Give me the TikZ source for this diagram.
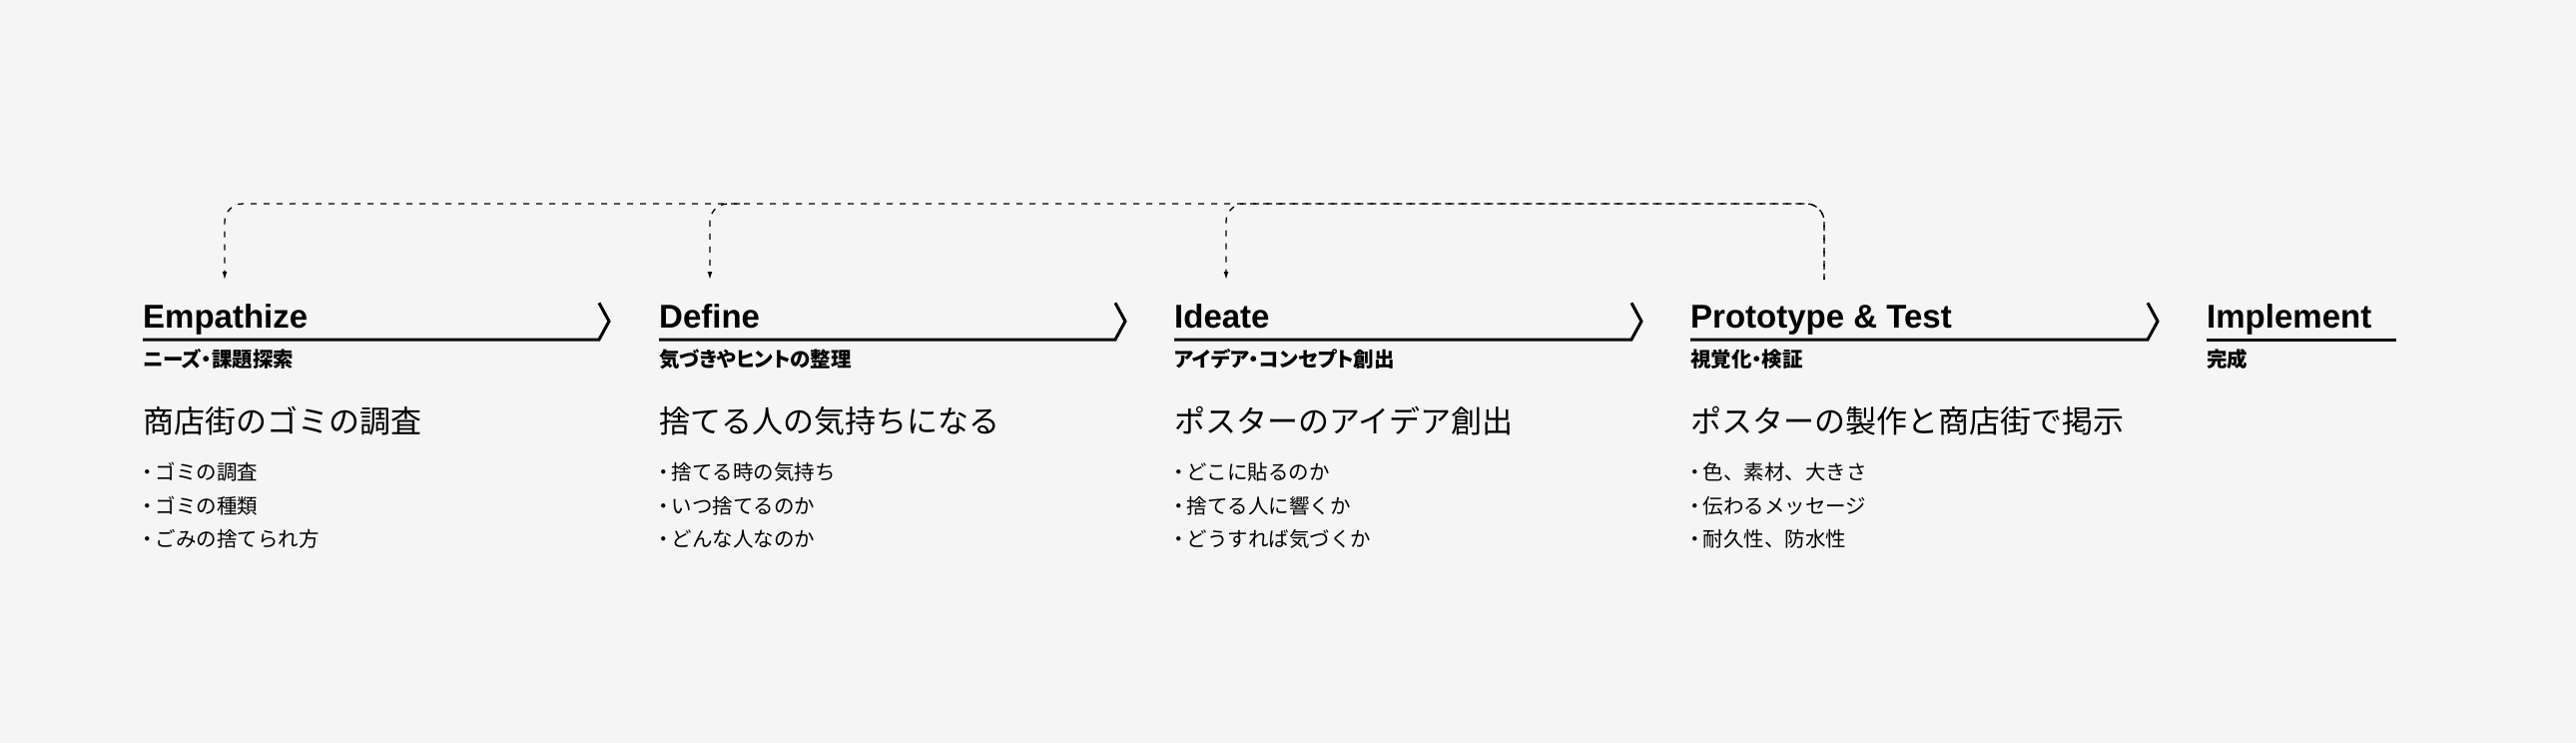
\documentclass[tikz,border=0pt]{standalone}
\usepackage{fontspec}
\setmainfont{Liberation Sans}
\newfontfamily\jpfont{Noto Sans CJK JP}
\newfontfamily\jpsubfont[RawFeature=+palt]{Noto Sans CJK JP}
\usetikzlibrary{calc,arrows.meta}
\definecolor{paper}{RGB}{245,245,245}
\newcommand{\bul}{\hspace*{-6pt}・\hspace*{-2pt}}

\tikzset{
  stagetitle/.style={anchor=base west, inner sep=0pt, font=\fontsize{33}{33}\selectfont\bfseries},
  stagesub/.style={anchor=base west, inner sep=0pt, font=\jpsubfont\bfseries\fontsize{20.5}{20.5}\selectfont},
  stagehead/.style={anchor=base west, inner sep=0pt, font=\jpfont\fontsize{31}{31}\selectfont},
  stageitem/.style={anchor=base west, inner sep=0pt, font=\jpfont\fontsize{20.5}{20.5}\selectfont},
  stageline/.style={line width=3pt, line join=miter},
  feedback/.style={line width=1.3pt, dash pattern=on 6pt off 7pt, rounded corners=18pt},
  fbarrow/.style={feedback, -{Latex[length=8pt,width=5pt]}}
}

\begin{document}
\begin{tikzpicture}[x=1pt, y=-1pt]
    \fill[paper] (0,0) rectangle (2580,744);
    \useasboundingbox (0,0) rectangle (2580,744);

    \coordinate (bus) at (0,204);
    \coordinate (emp-in) at (225,280);
    \coordinate (def-in) at (711,280);
    \coordinate (ide-in) at (1228,280);
    \coordinate (pro-out) at (1827,280);

    % Empathize
    \node[stagetitle] (emp) at (143,328) {Empathize};
    \node[stagesub] (emp-sub) at (143,367.5) {ニーズ・課題探索};
    \node[stagehead] (emp-head) at (143,433) {商店街のゴミの調査};
    \node[stageitem] (emp-b1) at (143,480.5) {\bul ゴミの調査};
    \node[stageitem] (emp-b2) at (143,514) {\bul ゴミの種類};
    \node[stageitem] (emp-b3) at (143,547.5) {\bul ごみの捨てられ方};
    \draw[stageline] (143,340) -- (600,340) -- (610,321.7) -- (600,303.3);

    % Define
    \node[stagetitle] (def) at (660,328) {Define};
    \node[stagesub] (def-sub) at (660,367.5) {気づきやヒントの整理};
    \node[stagehead] (def-head) at (660,433) {捨てる人の気持ちになる};
    \node[stageitem] (def-b1) at (660,480.5) {\bul 捨てる時の気持ち};
    \node[stageitem] (def-b2) at (660,514) {\bul いつ捨てるのか};
    \node[stageitem] (def-b3) at (660,547.5) {\bul どんな人なのか};
    \draw[stageline] (660,340) -- (1117,340) -- (1127,321.7) -- (1117,303.3);

    % Ideate
    \node[stagetitle] (ide) at (1176,328) {Ideate};
    \node[stagesub] (ide-sub) at (1176,367.5) {アイデア・コンセプト創出};
    \node[stagehead] (ide-head) at (1176,433) {ポスターのアイデア創出};
    \node[stageitem] (ide-b1) at (1176,480.5) {\bul どこに貼るのか};
    \node[stageitem] (ide-b2) at (1176,514) {\bul 捨てる人に響くか};
    \node[stageitem] (ide-b3) at (1176,547.5) {\bul どうすれば気づくか};
    \draw[stageline] (1176,340) -- (1634,340) -- (1644,321.7) -- (1634,303.3);

    % Prototype & Test
    \node[stagetitle] (pro) at (1693,328) {Prototype \& Test};
    \node[stagesub] (pro-sub) at (1693,367.5) {視覚化・検証};
    \node[stagehead] (pro-head) at (1693,433) {ポスターの製作と商店街で掲示};
    \node[stageitem] (pro-b1) at (1693,480.5) {\bul 色、素材、大きさ};
    \node[stageitem] (pro-b2) at (1693,514) {\bul 伝わるメッセージ};
    \node[stageitem] (pro-b3) at (1693,547.5) {\bul 耐久性、防水性};
    \draw[stageline] (1693,340) -- (2151,340) -- (2161,321.7) -- (2151,303.3);

    % Implement
    \node[stagetitle] (imp) at (2210,328) {Implement};
    \node[stagesub] (imp-sub) at (2210,367.5) {完成};
    \draw[stageline] (2210,340) -- (2400,340);

    % feedback loop
    \draw[fbarrow] (pro-out) |- (bus -| emp-in) -- (emp-in);
    \draw[fbarrow] ($(bus -| def-in)+(30,0)$) -| (def-in);
    \draw[fbarrow, dash phase=3pt] (pro-out) |- (bus -| ide-in) -- (ide-in);
\end{tikzpicture}
\end{document}
